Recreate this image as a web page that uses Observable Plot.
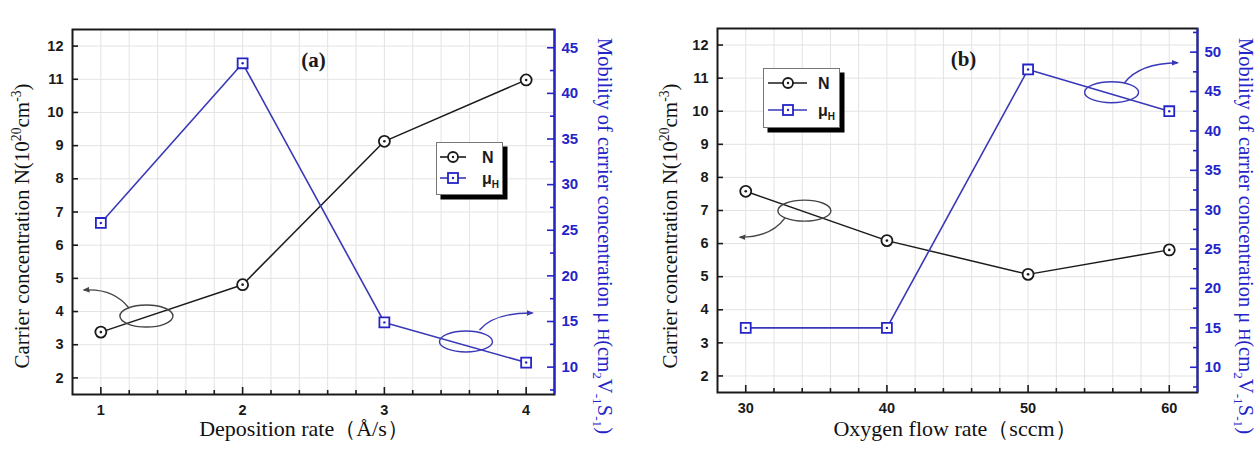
<!DOCTYPE html>
<html>
<head>
<meta charset="utf-8">
<script src="https://cdn.jsdelivr.net/npm/d3@7"></script>
<script src="https://cdn.jsdelivr.net/npm/@observablehq/plot@0.6"></script>
<style>
  body { margin: 0; background: #fff; }
  #wrap { position: relative; width: 1258px; height: 460px; overflow: hidden; background: #fff; }
  .panel { position: absolute; top: 0; }
  .title { position: absolute; white-space: nowrap; font-family: "Liberation Serif", "DejaVu Serif", serif; font-size: 21px; line-height: 22px; color: #111; }
  .rotl { transform: translate(-50%, -50%) rotate(-90deg); }
  .rotr { transform: translate(-50%, -50%) rotate(90deg); color: #2424c8; font-size: 20.5px; }
  .xt { transform: translate(-50%, 0); font-size: 22px; }
  .title sup, .title sub { font-size: 65%; line-height: 0; }
  .legend { position: absolute; }
</style>
</head>
<body>
<div id="wrap"></div>
<script>
// ---------------- data ----------------
// panel (a): deposition rate
const rateX  = [1, 2, 3, 4];
const rateN  = [3.38, 4.81, 9.13, 10.98];
const rateMu = [25.8, 43.3, 14.9, 10.5];
// panel (b): oxygen flow rate
const flowX  = [30, 40, 50, 60];
const flowN  = [7.58, 6.09, 5.07, 5.81];
const flowMu = [15.0, 15.0, 47.8, 42.5];
// tick labels
const nTicks    = [2, 3, 4, 5, 6, 7, 8, 9, 10, 11, 12];
const rateTicks = [1, 2, 3, 4];
const flowTicks = [30, 40, 50, 60];
const muTicksA  = [10, 15, 20, 25, 30, 35, 40, 45];
const muTicksB  = [10, 15, 20, 25, 30, 35, 40, 45, 50];
// texts
const panelLabels = ["(a)", "(b)"];
const legendNames = ["N", "μ"];

const BLUE_AX = "#2424c8";
const BLUE_LN = "#3838b8";
const BLACK = "#1a1a1a";
const GRID = "#e3e3e3";
const SANS = "'Liberation Sans', Arial, sans-serif";
const SERIF = "'Liberation Serif', 'Times New Roman', serif";

function steps(a, b, step) {
  const out = [];
  const n = Math.round((b - a) / step);
  for (let i = 0; i <= n; i++) out.push(+(a + i * step).toFixed(6));
  return out;
}

function makePanel(c) {
  const innerW = c.width - c.ml - c.mr, innerH = c.height - c.mt - c.mb;
  const m = d3.scaleLinear(c.muDomain, c.nDomain);
  const nData = c.xs.map((x, i) => ({x, y: c.N[i]}));
  const muData = c.xs.map((x, i) => ({x, y: m(c.Mu[i])}));
  const xAll = steps(c.xDomain[0], c.xDomain[1], c.xMinorStep).filter(v => v > c.xDomain[0] + 1e-6 && v < c.xDomain[1] - 1e-6);
  const xMinor = xAll.filter(v => !c.xTicks.includes(v));
  const muMinor = steps(7.5, c.muDomain[1], 5).filter(v => v > c.muDomain[0] && v < c.muDomain[1]);
  const tx = {fontFamily: SANS, fontWeight: "bold", fontSize: 14.5};

  const svg = Plot.plot({
    width: c.width, height: c.height,
    marginLeft: c.ml, marginRight: c.mr, marginTop: c.mt, marginBottom: c.mb,
    x: {domain: c.xDomain, axis: null},
    y: {domain: c.nDomain, axis: null},
    marks: [
      Plot.ruleX(xAll, {stroke: GRID, strokeWidth: 1}),
      Plot.ruleY(nTicks, {stroke: GRID, strokeWidth: 1}),
      Plot.frame({stroke: BLACK, strokeWidth: 2}),
      Plot.ruleX([c.xDomain[1]], {stroke: BLUE_AX, strokeWidth: 2}),
      // bottom ticks (inward)
      Plot.tickX(c.xTicks, {x: d => d, insetTop: innerH - 7, stroke: BLACK, strokeWidth: 1.6}),
      Plot.tickX(xMinor, {x: d => d, insetTop: innerH - 4, stroke: BLACK, strokeWidth: 1.6}),
      // left ticks (inward)
      Plot.tickY(nTicks, {y: d => d, insetRight: innerW - 6, stroke: BLACK, strokeWidth: 1.6}),
      // right ticks (inward, blue)
      Plot.tickY(c.muTicks, {y: d => m(d), insetLeft: innerW - 7, stroke: BLUE_AX, strokeWidth: 1.6}),
      Plot.tickY(muMinor, {y: d => m(d), insetLeft: innerW - 4, stroke: BLUE_AX, strokeWidth: 1.6}),
      // tick labels
      Plot.text(nTicks, {x: c.xDomain[0], y: d => d, text: d => String(d), textAnchor: "end", dx: -9, fill: BLACK, ...tx}),
      Plot.text(c.xTicks, {x: d => d, y: c.nDomain[0], text: d => String(d), dy: 16, fill: BLACK, ...tx}),
      Plot.text(c.muTicks, {x: c.xDomain[1], y: d => m(d), text: d => String(d), textAnchor: "start", dx: 7, fill: BLUE_AX, ...tx, fontSize: 15}),
      // series
      Plot.line(nData, {x: "x", y: "y", stroke: BLACK, strokeWidth: 1.5}),
      Plot.line(muData, {x: "x", y: "y", stroke: BLUE_LN, strokeWidth: 1.6}),
      Plot.dot(nData, {x: "x", y: "y", r: 5.5, stroke: BLACK, strokeWidth: 1.8, fill: "white"}),
      Plot.dot(nData, {x: "x", y: "y", r: 1.3, fill: BLACK, stroke: null}),
      Plot.dot(muData, {x: "x", y: "y", symbol: "square", r: 5.6, stroke: BLUE_AX, strokeWidth: 1.8, fill: "white"}),
      Plot.dot(muData, {x: "x", y: "y", r: 1.2, fill: BLUE_AX, stroke: null}),
      // panel label
      Plot.text([c.label], {frameAnchor: "top", dy: 23, dx: c.labelDx, text: d => d, fontFamily: SERIF, fontWeight: "bold", fontSize: 21, fill: BLACK})
    ]
  });

  // ellipse annotations with curved arrows
  const sx = svg.scale("x"), sy = svg.scale("y");
  const sel = d3.select(svg);
  const defs = sel.append("defs");
  c.annotations.forEach((a, i) => {
    const id = `arr-${c.label.replace(/\W/g, "")}-${i}`;
    defs.append("marker").attr("id", id).attr("viewBox", "0 0 10 10")
      .attr("refX", 8).attr("refY", 5).attr("markerWidth", 5).attr("markerHeight", 5)
      .attr("orient", "auto").append("path").attr("d", "M0,1L10,5L0,9z").attr("fill", a.color);
    const cx = sx.apply(a.x), cy = sy.apply(a.axis === "mu" ? m(a.y) : a.y);
    sel.append("ellipse").attr("cx", cx).attr("cy", cy).attr("rx", a.rx).attr("ry", a.ry)
      .attr("fill", "none").attr("stroke", a.color).attr("stroke-width", 1.4);
    const [s, q, e] = a.path;
    sel.append("path")
      .attr("d", `M${cx + s[0]},${cy + s[1]}Q${cx + q[0]},${cy + q[1]} ${cx + e[0]},${cy + e[1]}`)
      .attr("fill", "none").attr("stroke", a.color).attr("stroke-width", 1.4)
      .attr("marker-end", `url(#${id})`);
  });
  return svg;
}

const wrap = document.getElementById("wrap");

const panelA = makePanel({
  width: 629, height: 460, ml: 72, mr: 75, mt: 29, mb: 66,
  xDomain: [0.8, 4.2], xTicks: rateTicks, xMinorStep: 0.2,
  nDomain: [1.5, 12.5], muDomain: [7, 47], muTicks: muTicksA,
  xs: rateX, N: rateN, Mu: rateMu, label: panelLabels[0], labelDx: 0,
  annotations: [
    {x: 1.325, y: 3.85, axis: "n", rx: 26.5, ry: 11, color: "#444",
     path: [[-17.5, -8], [-33, -28], [-62.5, -26]]},
    {x: 3.579, y: 12.75, axis: "mu", rx: 26.5, ry: 10.5, color: BLUE_LN,
     path: [[13.5, -11.5], [28, -29], [66.5, -28.5]]}
  ]
});
panelA.classList.add("panel");
panelA.style.left = "0px";
wrap.appendChild(panelA);

const panelB = makePanel({
  width: 629, height: 460, ml: 88, mr: 61, mt: 28, mb: 68,
  xDomain: [28, 62], xTicks: flowTicks, xMinorStep: 2,
  nDomain: [1.5, 12.5], muDomain: [6.8, 53], muTicks: muTicksB,
  xs: flowX, N: flowN, Mu: flowMu, label: panelLabels[1], labelDx: 6,
  annotations: [
    {x: 34.19, y: 6.98, axis: "n", rx: 26.5, ry: 10.5, color: "#444",
     path: [[-19.5, 7.5], [-34, 27], [-64.5, 26.5]]},
    {x: 55.95, y: 44.85, axis: "mu", rx: 27, ry: 10.5, color: BLUE_LN,
     path: [[13, -9.5], [28, -29], [66, -29.5]]}
  ]
});
panelB.classList.add("panel");
panelB.style.left = "629px";
wrap.appendChild(panelB);

// axis titles
function addTitle(html, cls, x, y) {
  const d = document.createElement("div");
  d.className = "title " + cls;
  d.innerHTML = html;
  d.style.left = x + "px";
  d.style.top = y + "px";
  wrap.appendChild(d);
}
const leftTitle = "Carrier concentration N(10<sup>20</sup>cm<sup>-3</sup>)";
const rightTitle = "Mobility of carrier concentration μ <span style='font-size:80%'>H</span>(cm<sub>2</sub>V<sub>-1</sub>S<sub>-1</sub>)";
addTitle(leftTitle, "rotl", 22, 226);
addTitle(leftTitle, "rotl", 670, 226);
addTitle(rightTitle, "rotr", 604, 236);
addTitle(rightTitle, "rotr", 1245, 236);
addTitle("Deposition rate（Å/s）", "xt", 304, 418);
addTitle("Oxygen flow rate（sccm）", "xt", 955, 418);

// legends
function addLegend(x, y, w, h, lineX0, lineX1, mX, textX, rowY) {
  const s = d3.create("svg").attr("width", w + 6).attr("height", h + 6)
    .attr("class", "legend").style("left", x + "px").style("top", y + "px");
  s.append("rect").attr("x", 4.5).attr("y", 4.5).attr("width", w).attr("height", h).attr("fill", "#000");
  s.append("rect").attr("x", 0.5).attr("y", 0.5).attr("width", w - 1).attr("height", h - 1)
    .attr("fill", "#fff").attr("stroke", "#777").attr("stroke-width", 1);
  // N row
  s.append("line").attr("x1", lineX0).attr("x2", lineX1).attr("y1", rowY[0]).attr("y2", rowY[0]).attr("stroke", BLACK).attr("stroke-width", 1.6);
  s.append("circle").attr("cx", mX).attr("cy", rowY[0]).attr("r", 5).attr("fill", "#fff").attr("stroke", BLACK).attr("stroke-width", 1.8);
  s.append("circle").attr("cx", mX).attr("cy", rowY[0]).attr("r", 1.2).attr("fill", BLACK);
  s.append("text").attr("x", textX).attr("y", rowY[0]).attr("dy", "0.36em").attr("font-family", SANS)
    .attr("font-weight", "bold").attr("font-size", 16).attr("fill", BLACK).text(legendNames[0]);
  // mu row
  s.append("line").attr("x1", lineX0).attr("x2", lineX1).attr("y1", rowY[1]).attr("y2", rowY[1]).attr("stroke", BLUE_LN).attr("stroke-width", 1.6);
  s.append("rect").attr("x", mX - 5).attr("y", rowY[1] - 5).attr("width", 10).attr("height", 10).attr("fill", "#fff").attr("stroke", BLUE_AX).attr("stroke-width", 1.8);
  s.append("circle").attr("cx", mX).attr("cy", rowY[1]).attr("r", 1.2).attr("fill", BLUE_AX);
  const t = s.append("text").attr("x", textX).attr("y", rowY[1]).attr("dy", "0.36em").attr("font-family", SANS)
    .attr("font-weight", "bold").attr("font-size", 16).attr("fill", BLACK);
  t.append("tspan").text(legendNames[1]);
  t.append("tspan").attr("dy", 4).attr("font-size", 10).text("H");
  wrap.appendChild(s.node());
}
addLegend(436, 142, 67, 53, 4, 30, 17, 46, [15, 36]);
addLegend(763, 68, 77, 60, 5, 44, 25, 55, [15, 42]);
</script>
</body>
</html>
